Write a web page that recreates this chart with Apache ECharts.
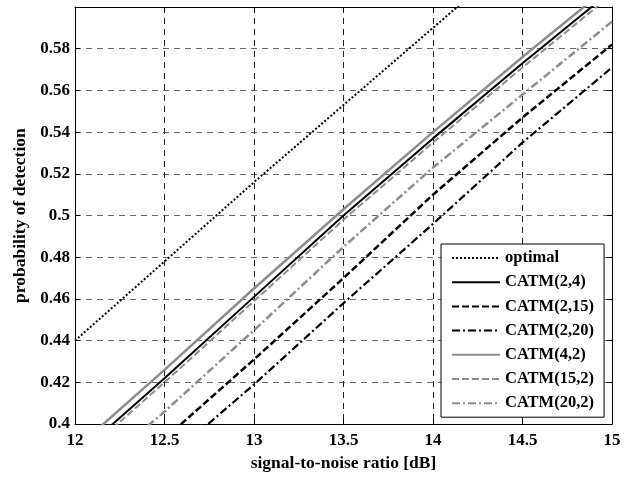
<!DOCTYPE html>
<html>
<head>
<meta charset="utf-8">
<script src="https://cdn.jsdelivr.net/npm/echarts@6/dist/echarts.min.js"></script>
<style>
  html, body { margin: 0; padding: 0; background: #fff; }
  #chart { width: 629px; height: 477px; }
</style>
</head>
<body>
<div id="chart"></div>
<script>
// SNR sample points [dB]
const snr = [12, 12.5, 13, 13.5, 14, 14.5, 15];

// Probability of detection for each detector
const optimal  = [0.440, 0.478, 0.516, 0.553, 0.590, 0.627, 0.664];
const catm2_4  = [0.384, 0.422, 0.461, 0.500, 0.537, 0.573, 0.608];
const catm2_15 = [0.356, 0.393, 0.431, 0.470, 0.510, 0.547, 0.582];
const catm2_20 = [0.345, 0.382, 0.419, 0.458, 0.496, 0.535, 0.571];
const catm4_2  = [0.388, 0.426, 0.465, 0.503, 0.540, 0.576, 0.611];
const catm15_2 = [0.382, 0.420, 0.459, 0.498, 0.535, 0.571, 0.606];
const catm20_2 = [0.369, 0.406, 0.445, 0.485, 0.523, 0.558, 0.593];

const seriesNames = ['optimal', 'CATM(2,4)', 'CATM(2,15)', 'CATM(2,20)', 'CATM(4,2)', 'CATM(15,2)', 'CATM(20,2)'];
const seriesValues = [optimal, catm2_4, catm2_15, catm2_20, catm4_2, catm15_2, catm20_2];

const FONT = '"Liberation Serif", "Times New Roman", serif';
const dashDot = [8, 3, 2, 3];
const styles = [
  { color: '#000', width: 2,   type: [2, 2] },
  { color: '#000', width: 2,   type: 'solid' },
  { color: '#000', width: 2.5, type: [7, 3] },
  { color: '#000', width: 2.2, type: dashDot },
  { color: '#8c8c8c', width: 2.5, type: 'solid' },
  { color: '#8c8c8c', width: 2,   type: [7, 3] },
  { color: '#8c8c8c', width: 2.5, type: dashDot }
];

const series = seriesNames.map((name, i) => ({
  name: name,
  type: 'line',
  xAxisIndex: 0,
  yAxisIndex: 0,
  data: snr.map((x, k) => [x, seriesValues[i][k]]),
  showSymbol: false,
  symbol: 'none',
  smooth: false,
  clip: true,
  color: styles[i].color,
  itemStyle: { color: styles[i].color },
  lineStyle: { color: styles[i].color, width: styles[i].width, type: styles[i].type },
  z: i === 1 ? 3 : 2
}));

const chart = echarts.init(document.getElementById('chart'), null, { renderer: 'canvas' });

const labelStyle = { color: '#000', fontFamily: FONT, fontWeight: 'bold', fontSize: 17 };

chart.setOption({
  animation: false,
  backgroundColor: '#fff',
  grid: { left: 75, right: 17, top: 7, bottom: 46, containLabel: false },
  legend: {
    data: seriesNames,
    orient: 'vertical',
    left: 441,
    top: 244,
    backgroundColor: '#fff',
    borderColor: '#000',
    borderWidth: 1,
    borderRadius: 0,
    padding: [4, 10, 4, 10],
    itemWidth: 48,
    itemHeight: 14,
    itemGap: 4.2,
    itemStyle: { opacity: 0 },
    textStyle: { color: '#000', fontFamily: FONT, fontWeight: 'bold', fontSize: 16.5, lineHeight: 20 },
    selectedMode: false
  },
  xAxis: [
    {
      type: 'value',
      min: 12, max: 15, interval: 0.5,
      name: 'signal-to-noise ratio [dB]',
      nameLocation: 'middle',
      nameGap: 27,
      nameTextStyle: { color: '#000', fontFamily: FONT, fontWeight: 'bold', fontSize: 17.5 },
      axisLine: { show: true, onZero: false, lineStyle: { color: '#000', width: 1 } },
      axisTick: { show: true, inside: true, length: 5, lineStyle: { color: '#000' } },
      axisLabel: Object.assign({ margin: 8 }, labelStyle),
      splitLine: { show: true, lineStyle: { color: '#222', width: 1, type: [6, 5] } }
    },
    {
      type: 'value',
      position: 'top',
      min: 12, max: 15, interval: 0.5,
      axisLine: { show: true, onZero: false, lineStyle: { color: '#000', width: 1 } },
      axisTick: { show: true, inside: true, length: 5, lineStyle: { color: '#000' } },
      axisLabel: { show: false },
      splitLine: { show: false }
    }
  ],
  yAxis: [
    {
      type: 'value',
      min: 0.4, max: 0.6, interval: 0.02,
      name: 'probability of detection',
      nameLocation: 'middle',
      nameGap: 46,
      nameTextStyle: { color: '#000', fontFamily: FONT, fontWeight: 'bold', fontSize: 17.5 },
      axisLine: { show: true, onZero: false, lineStyle: { color: '#000', width: 1 } },
      axisTick: { show: true, inside: true, length: 5, lineStyle: { color: '#000' } },
      axisLabel: Object.assign({
        margin: 5,
        showMaxLabel: false,
        formatter: v => String(+v.toFixed(2))
      }, labelStyle),
      splitLine: { show: true, lineStyle: { color: '#666', width: 1, type: [6, 5] } }
    },
    {
      type: 'value',
      position: 'right',
      min: 0.4, max: 0.6, interval: 0.02,
      axisLine: { show: true, onZero: false, lineStyle: { color: '#000', width: 1 } },
      axisTick: { show: true, inside: true, length: 5, lineStyle: { color: '#000' } },
      axisLabel: { show: false },
      splitLine: { show: false }
    }
  ],
  series: series
});
</script>
</body>
</html>
